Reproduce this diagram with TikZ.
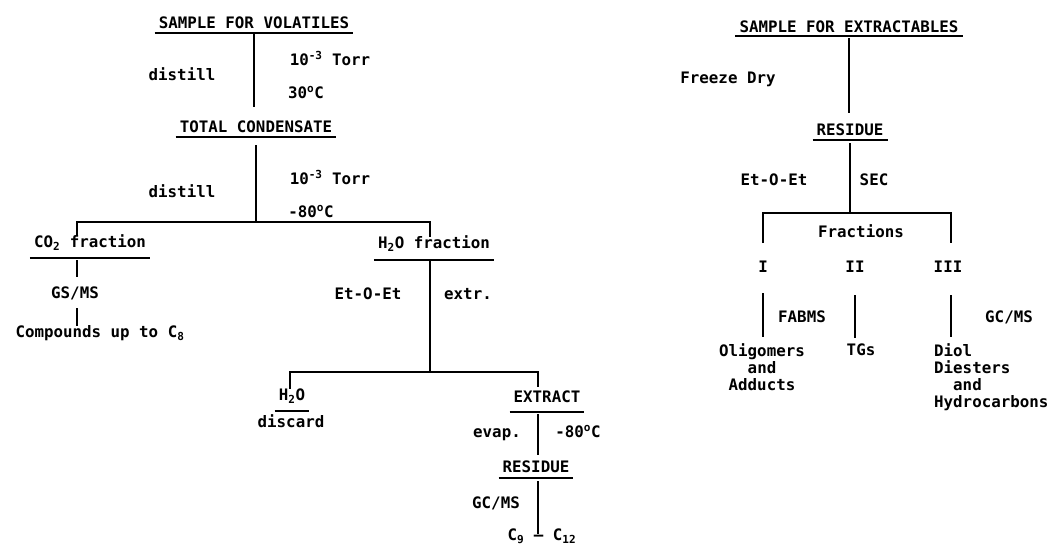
\documentclass[tikz,border=0pt]{standalone}
\usepackage{fontspec}
\newfontfamily\plotfont{DejaVu Sans Mono}
\newcommand{\plotsize}{\fontsize{15.8}{17}\selectfont}
\tikzset{
  txt/.style={font=\plotfont\bfseries\plotsize, inner sep=0pt, anchor=base, text height=11pt, text depth=2pt},
  head/.style={txt, text depth=#1},
  head/.default=3pt,
  multi/.style={font=\plotfont\bfseries\plotsize, inner sep=0pt},
  link/.style={line width=1.6pt},
}
\begin{document}
\begin{tikzpicture}[x=1pt, y=-1pt]
        \useasboundingbox (0,0) rectangle (1053,546);

        % Volatiles - two distillations
        \node[head] (svol) at (254,28) {SAMPLE FOR VOLATILES};
        \node[txt] (torra) at (330,65) {10\textsuperscript{-3} Torr};
        \node[txt] (dista) at (182,80) {distill};
        \node[txt] (tempa) at (306,98) {30\textsuperscript{o}C};
        \node[head] (tcond) at (256,132) {TOTAL CONDENSATE};
        \node[txt] (torrb) at (330,184) {10\textsuperscript{-3} Torr};
        \node[txt] (distb) at (182,197) {distill};
        \node[txt] (tempb) at (311,217) {-80\textsuperscript{o}C};

        % CO2 branch
        \node[head=9pt] (co2) at (90,247) {CO\textsubscript{2} fraction};
        \node[txt] (gsms) at (75,298) {GS/MS};
        \node[txt] (comp) at (100,337) {Compounds up to C\textsubscript{8}};

        % H2O branch
        \node[head=10pt] (h2of) at (434,248) {H\textsubscript{2}O fraction};
        \node[txt] (etoa) at (368,299) {Et-O-Et};
        \node[txt] (extrl) at (468,299) {extr.};
        \node[head=9pt] (h2o) at (292,400) {H\textsubscript{2}O};
        \node[txt] (disc) at (291,427) {discard};
        \node[head=8pt] (extr) at (547,402) {EXTRACT};
        \node[txt] (evap) at (497,437) {evap.};
        \node[txt] (tempc) at (578,437) {-80\textsuperscript{o}C};
        \node[head=4pt] (resl) at (536,472) {RESIDUE};
        \node[txt] (gcl) at (496,508) {GC/MS};
        \node[txt] (cnine) at (542,540) {C\textsubscript{9} – C\textsubscript{12}};

        % Extractables
        \node[head=2pt] (sext) at (849,32) {SAMPLE FOR EXTRACTABLES};
        \node[txt] (fdry) at (728,83) {Freeze Dry};
        \node[head] (resr) at (850,135) {RESIDUE};
        \node[txt] (etob) at (774,185) {Et-O-Et};
        \node[txt] (sec) at (874,185) {SEC};
        \node[txt, text depth=6pt] (fracs) at (861,237) {Fractions};
        \node[txt] (fone) at (763,272) {I};
        \node[txt] (ftwo) at (855,272) {II};
        \node[txt] (fthree) at (948,272) {III};
        \node[txt] (fabms) at (802,322) {FABMS};
        \node[txt] (gcr) at (1009,322) {GC/MS};
        \node[multi, anchor=north, align=center] (olig) at (762,343) {Oligomers\\and\\Adducts};
        \node[txt] (tgs) at (861,355) {TGs};
        \node[multi, anchor=north west, align=left] (diol) at (934,343) {Diol\\Diesters\\\ \ and\\Hydrocarbons};

        % underlined headings
        \foreach \n in {svol,tcond,co2,h2of,h2o,extr,resl,sext,resr}
            \draw[link] ([xshift=-4pt,yshift=-2pt]\n.south west) -- ([xshift=4pt,yshift=-2pt]\n.south east);

        % split points
        \coordinate (bone) at (256,222);
        \coordinate (bonel) at (77,222);
        \coordinate (boner) at (430,222);
        \coordinate (btwo) at (430,372);
        \coordinate (btwol) at (290,372);
        \coordinate (btwor) at (538,372);
        \coordinate (bthree) at (850,213);
        \coordinate (bthreel) at (763,213);
        \coordinate (bthreer) at (951,213);

        % left tree
        \draw[link, shorten <=3pt, shorten >=14pt] (svol.south) -- (svol.south |- tcond.north);
        \draw[link, shorten <=10pt] (tcond.south) -- (bone);
        \draw[link] (co2.north -| bonel) |- (boner) -- (boner |- h2of.north);
        \draw[link, shorten <=4pt, shorten >=10pt] (co2.south -| bonel) -- (bonel |- gsms.north);
        \draw[link, shorten <=8pt] (gsms.south -| bonel) -- (bonel |- comp.north);
        \draw[link, shorten <=2pt] (h2of.south -| btwo) -- (btwo);
        \draw[link, shorten >=4pt] (h2o.north -| btwol) |- (btwor) -- (btwor |- extr.north);
        \draw[link, shorten <=4pt, shorten >=6pt] (extr.south -| btwor) -- (btwor |- resl.north);
        \draw[link, shorten <=5pt, shorten >=6pt] (resl.south -| btwor) -- (btwor |- cnine.base);

        % right tree
        \draw[link, shorten <=4pt, shorten >=11pt] (sext.south) -- (sext.south |- resr.north);
        \draw[link, shorten <=5pt] (resr.south) -- (bthree);
        \draw[link] (fracs.south -| bthreel) |- (bthreer) -- (bthreer |- fracs.south);
        \draw[link, shorten <=19pt, shorten >=6pt] (fone.south) -- (fone.south |- olig.north);
        \draw[link, shorten <=21pt, shorten >=6pt] (ftwo.south) -- (ftwo.south |- tgs.north);
        \draw[link, shorten <=21pt, shorten >=6pt] (fthree.south -| bthreer) -- (bthreer |- diol.north);
    \end{tikzpicture}
\end{document}
